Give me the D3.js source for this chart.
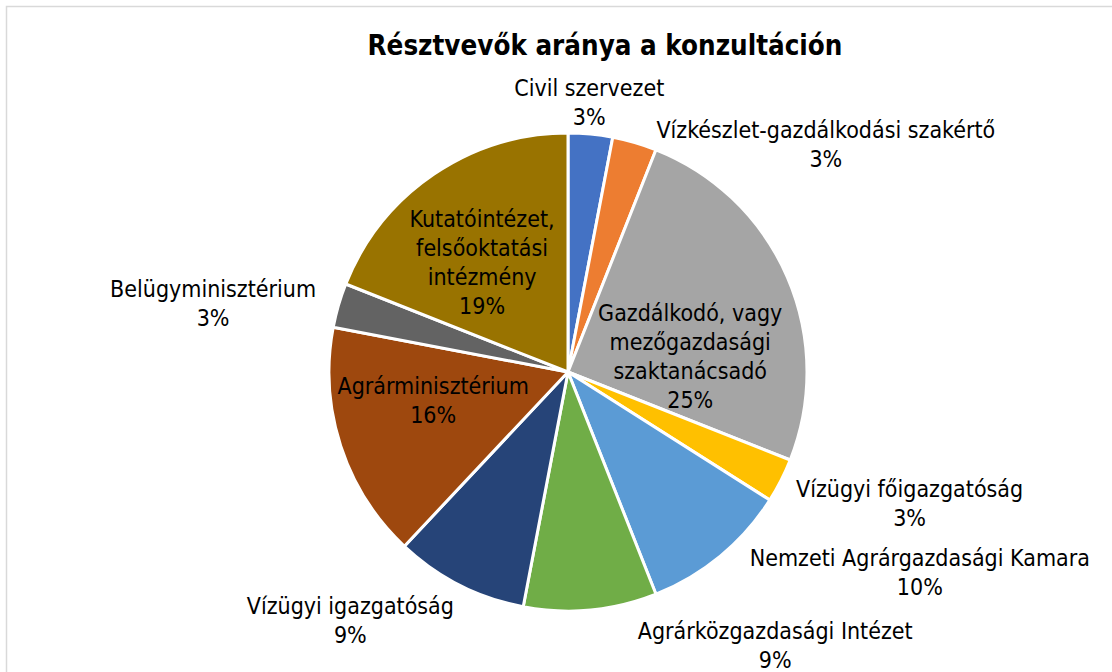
<!DOCTYPE html>
<html>
<head>
<meta charset="utf-8">
<script src="https://cdn.jsdelivr.net/npm/d3@7"></script>
<style>
  body { margin: 0; background: #fff; }
  text { font-family: "DejaVu Sans Condensed", "DejaVu Sans", sans-serif; fill: #000; }
</style>
</head>
<body>
<script>
// categories, shares (%) and slice colours
const categories = ["Civil szervezet", "Vízkészlet-gazdálkodási szakértő",
  "Gazdálkodó, vagy mezőgazdasági szaktanácsadó", "Vízügyi főigazgatóság",
  "Nemzeti Agrárgazdasági Kamara", "Agrárközgazdasági Intézet", "Vízügyi igazgatóság",
  "Agrárminisztérium", "Belügyminisztérium", "Kutatóintézet, felsőoktatási intézmény"];
const shares = [3, 3, 25, 3, 10, 9, 9, 16, 3, 19];
const colors = ["#4472C4", "#ED7D31", "#A5A5A5", "#FFC000", "#5B9BD5",
  "#70AD47", "#264478", "#9E480E", "#636363", "#997300"];

// how each label is broken into lines
const labelLines = [
  ["Civil szervezet"], ["Vízkészlet-gazdálkodási szakértő"],
  ["Gazdálkodó, vagy", "mezőgazdasági", "szaktanácsadó"], ["Vízügyi főigazgatóság"],
  ["Nemzeti Agrárgazdasági Kamara"], ["Agrárközgazdasági Intézet"], ["Vízügyi igazgatóság"],
  ["Agrárminisztérium"], ["Belügyminisztérium"], ["Kutatóintézet,", "felsőoktatási", "intézmény"]
];
// label placement: inside the slice or outside, plus a small nudge
const labelInside = [false, false, true, false, false, false, false, true, false, true];
const labelNudge = [[-5, 8], [180, 40], [-5, 39], [93, 5], [174, -15],
  [181, -5], [-91, 0], [-3, -15], [-87, 9], [-8, 5]];

const width = 1112, height = 672;
const cx = 568, cy = 372, radius = 239;

const svg = d3.select("body").append("svg")
  .attr("width", width)
  .attr("height", height);

// chart frame (runs off the bottom/right of the picture)
svg.append("rect")
  .attr("x", 6.5).attr("y", 6.5)
  .attr("width", 1200).attr("height", 800)
  .attr("fill", "none")
  .attr("stroke", "#d9d9d9")
  .attr("stroke-width", 1.5);

svg.append("text")
  .attr("x", 605).attr("y", 55)
  .attr("text-anchor", "middle")
  .style("font-size", "27.5px")
  .style("font-weight", "bold")
  .text("Résztvevők aránya a konzultáción");

const pie = d3.pie().sort(null).value(d => d.v);
const arcs = pie(shares.map((v, i) => ({v: v, i: i})));

const arc = d3.arc().innerRadius(0).outerRadius(radius);

const g = svg.append("g").attr("transform", `translate(${cx},${cy})`);

g.selectAll("path")
  .data(arcs)
  .enter()
  .append("path")
  .attr("d", arc)
  .attr("fill", d => colors[d.data.i])
  .attr("stroke", "#fff")
  .attr("stroke-width", 3)
  .attr("stroke-linejoin", "round");

// data labels: name lines + percentage
const lineH = 29;
arcs.forEach(function(d) {
  const i = d.data.i;
  const a = (d.startAngle + d.endAngle) / 2;
  const rho = labelInside[i] ? radius * 0.58 : radius + 40;
  const x = rho * Math.sin(a) + labelNudge[i][0];
  const y = -rho * Math.cos(a) + labelNudge[i][1];
  const lines = labelLines[i].concat([shares[i] + "%"]);
  const top = y - (lines.length - 1) * lineH / 2;
  const t = g.append("text")
    .attr("text-anchor", "middle")
    .style("font-size", "23px");
  lines.forEach(function(s, k) {
    t.append("tspan")
      .attr("x", x)
      .attr("y", top + k * lineH)
      .attr("dy", "0.36em")
      .text(s);
  });
});
</script>
</body>
</html>
